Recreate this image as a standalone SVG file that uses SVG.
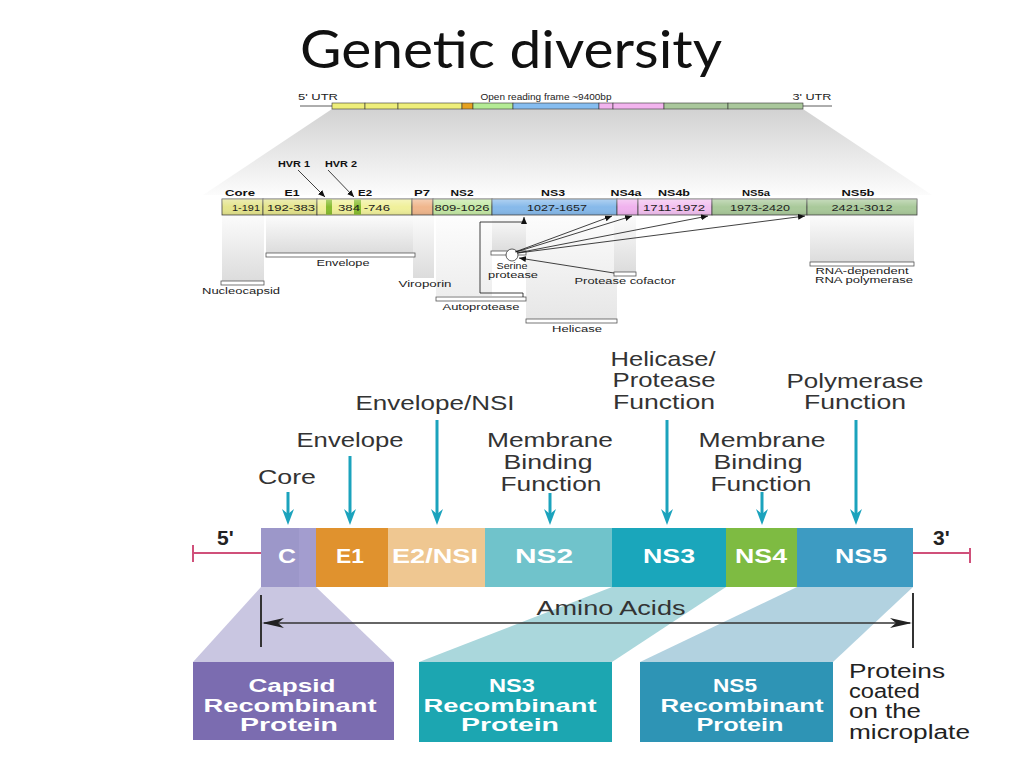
<svg xmlns="http://www.w3.org/2000/svg" width="1024" height="768" viewBox="0 0 1024 768">
<defs>
<style>
.t{font-family:"Liberation Sans",Arial,sans-serif}
.title{font-family:Lato,"Liberation Sans",sans-serif;font-size:52px;fill:#111}
.s{font-family:"Liberation Sans",Arial,sans-serif;font-size:8.5px;fill:#222;text-anchor:middle}
.sb{font-family:"Liberation Sans",Arial,sans-serif;font-size:8.5px;font-weight:bold;fill:#111;text-anchor:middle}
.n{font-family:"Liberation Sans",Arial,sans-serif;font-size:8.5px;fill:#222;text-anchor:middle}
.lab{font-family:"Liberation Sans",Arial,sans-serif;font-size:21px;fill:#333;text-anchor:middle}
.bl{font-family:"Liberation Sans",Arial,sans-serif;font-size:21px;font-weight:bold;fill:#fff;text-anchor:middle}
.bx{font-family:"Liberation Sans",Arial,sans-serif;font-size:19px;font-weight:bold;fill:#fff;text-anchor:middle}
.seg{stroke:#333;stroke-width:0.6}
.seg2{stroke:#444;stroke-width:0.8}
.pbox{fill:#fff;stroke:#555;stroke-width:0.8}
.teal{stroke:#1ba3bd;stroke-width:3;fill:none}
.thin{stroke:#111;stroke-width:0.8;fill:none}
.pink{stroke:#d0507a;stroke-width:2;fill:none}
</style>
<linearGradient id="shade" x1="0" y1="0" x2="0" y2="1">
<stop offset="0" stop-color="#d2d2d2"/><stop offset="1" stop-color="#fcfcfc"/>
</linearGradient>
<linearGradient id="col" x1="0" y1="0" x2="0" y2="1">
<stop offset="0" stop-color="#fbfbfb"/><stop offset="1" stop-color="#dcdcdc"/>
</linearGradient>
<linearGradient id="gloss" x1="0" y1="0" x2="0" y2="1">
<stop offset="0" stop-color="#fff" stop-opacity="0.35"/><stop offset="0.5" stop-color="#fff" stop-opacity="0"/><stop offset="1" stop-color="#000" stop-opacity="0.08"/>
</linearGradient>
<marker id="ta" markerUnits="userSpaceOnUse" markerWidth="16" markerHeight="12" refX="8" refY="6" orient="auto">
<path d="M0,0 L16,6 L0,12 L5,6 z" fill="#1ba3bd"/>
</marker>
<marker id="ba" markerUnits="userSpaceOnUse" markerWidth="22" markerHeight="10" refX="20" refY="5" orient="auto-start-reverse">
<path d="M0,0 L22,5 L0,10 L6,5 z" fill="#222"/>
</marker>
<marker id="sa" markerUnits="userSpaceOnUse" markerWidth="7" markerHeight="6" refX="7" refY="3" orient="auto">
<path d="M0,0 L7,3 L0,6 z" fill="#111"/>
</marker>
</defs>
<rect width="1024" height="768" fill="#fff"/>

<g id="title"><text class="title" x="511" y="68" text-anchor="middle" textLength="422" lengthAdjust="spacingAndGlyphs">Genetic diversity</text></g>

<!-- TOP GENOME DIAGRAM -->
<g id="genome-shading">
<polygon points="332,109 803,109 932,195 203,195" fill="url(#shade)"/>
<rect x="222" y="216" width="42" height="65" fill="url(#col)"/>
<rect x="266" y="216" width="149" height="37" fill="url(#col)"/>
<rect x="413" y="216" width="21" height="62" fill="url(#col)"/>
<rect x="436" y="216" width="56" height="80" fill="url(#col)" opacity="0.5"/>
<rect x="492" y="216" width="34" height="36" fill="url(#col)"/>
<rect x="526" y="216" width="91" height="103" fill="url(#col)" opacity="0.7"/>
<rect x="614" y="216" width="22" height="56" fill="url(#col)"/>
<rect x="810" y="216" width="104" height="46" fill="url(#col)"/>
</g>

<g id="utr-bar">
<line x1="300" y1="106" x2="832" y2="106" stroke="#333" stroke-width="0.8"/>
<rect class="seg" x="332" y="103" width="33" height="6" fill="#eeee7a"/>
<rect class="seg" x="365" y="103" width="33" height="6" fill="#eeee7a"/>
<rect class="seg" x="398" y="103" width="64" height="6" fill="#eeee7a"/>
<rect class="seg" x="462" y="103" width="11" height="6" fill="#e6a21e"/>
<rect class="seg" x="473" y="103" width="40" height="6" fill="#b4eb95"/>
<rect class="seg" x="513" y="103" width="86" height="6" fill="#86bdf0"/>
<rect class="seg" x="599" y="103" width="14" height="6" fill="#f2b4ee"/>
<rect class="seg" x="613" y="103" width="51" height="6" fill="#f2b4ee"/>
<rect class="seg" x="664" y="103" width="64" height="6" fill="#a9c79b"/>
<rect class="seg" x="728" y="103" width="75" height="6" fill="#a9c79b"/>
<text class="s" x="318" y="100" textLength="40" lengthAdjust="spacingAndGlyphs">5' UTR</text>
<text class="s" x="546" y="100" textLength="131" lengthAdjust="spacingAndGlyphs">Open reading frame ~9400bp</text>
<text class="s" x="812" y="100" textLength="39" lengthAdjust="spacingAndGlyphs">3' UTR</text>
</g>

<g id="polyprotein-bar">
<rect class="seg2" x="222" y="199" width="41" height="16" fill="#e4e48c"/>
<rect class="seg2" x="263" y="199" width="54" height="16" fill="#e4e48c"/>
<rect class="seg2" x="317" y="199" width="95" height="16" fill="#f0f09a"/>
<rect x="326" y="199.4" width="6" height="15.2" fill="#86bb2e"/>
<rect x="354" y="199.4" width="7" height="15.2" fill="#86bb2e"/>
<rect class="seg2" x="412" y="199" width="21" height="16" fill="#f0b68c"/>
<rect class="seg2" x="433" y="199" width="59" height="16" fill="#c4e8a4"/>
<rect class="seg2" x="492" y="199" width="125" height="16" fill="#86b9ea"/>
<rect class="seg2" x="617" y="199" width="21" height="16" fill="#f0b2ee"/>
<rect class="seg2" x="638" y="199" width="74" height="16" fill="#f2c0f0"/>
<rect class="seg2" x="712" y="199" width="95" height="16" fill="#a9c99a"/>
<rect class="seg2" x="807" y="199" width="110" height="16" fill="#a9c99a"/>
<rect x="222" y="199" width="695" height="16" fill="url(#gloss)"/>
<text class="n" x="246" y="211" textLength="28" lengthAdjust="spacingAndGlyphs">1-191</text>
<text class="n" x="291" y="211" textLength="48" lengthAdjust="spacingAndGlyphs">192-383</text>
<text class="n" x="364" y="211" textLength="52" lengthAdjust="spacingAndGlyphs">384 -746</text>
<text class="n" x="462" y="211" textLength="55" lengthAdjust="spacingAndGlyphs">809-1026</text>
<text class="n" x="557" y="211" textLength="60" lengthAdjust="spacingAndGlyphs">1027-1657</text>
<text class="n" x="674" y="211" textLength="62" lengthAdjust="spacingAndGlyphs">1711-1972</text>
<text class="n" x="760" y="211" textLength="60" lengthAdjust="spacingAndGlyphs">1973-2420</text>
<text class="n" x="862" y="211" textLength="61" lengthAdjust="spacingAndGlyphs">2421-3012</text>
</g>

<g id="segment-labels">
<text class="sb" x="240" y="196" textLength="30" lengthAdjust="spacingAndGlyphs">Core</text>
<text class="sb" x="292" y="196" textLength="15" lengthAdjust="spacingAndGlyphs">E1</text>
<text class="sb" x="365" y="196" textLength="14" lengthAdjust="spacingAndGlyphs">E2</text>
<text class="sb" x="422" y="196" textLength="16" lengthAdjust="spacingAndGlyphs">P7</text>
<text class="sb" x="462" y="196" textLength="23" lengthAdjust="spacingAndGlyphs">NS2</text>
<text class="sb" x="553" y="196" textLength="24" lengthAdjust="spacingAndGlyphs">NS3</text>
<text class="sb" x="626" y="196" textLength="31" lengthAdjust="spacingAndGlyphs">NS4a</text>
<text class="sb" x="674" y="196" textLength="32" lengthAdjust="spacingAndGlyphs">NS4b</text>
<text class="sb" x="756" y="196" textLength="28" lengthAdjust="spacingAndGlyphs">NS5a</text>
<text class="sb" x="858" y="196" textLength="33" lengthAdjust="spacingAndGlyphs">NS5b</text>
<text class="sb" x="294" y="167" textLength="32" lengthAdjust="spacingAndGlyphs">HVR 1</text>
<text class="sb" x="341" y="167" textLength="32" lengthAdjust="spacingAndGlyphs">HVR 2</text>
</g>

<g id="nucleocapsid"><rect class="pbox" x="221" y="281" width="43" height="4"/><text class="s" x="241" y="294" textLength="78" lengthAdjust="spacingAndGlyphs">Nucleocapsid</text></g>
<g id="envelope"><rect class="pbox" x="266" y="253" width="149" height="4"/><text class="s" x="343" y="266" textLength="53" lengthAdjust="spacingAndGlyphs">Envelope</text></g>
<g id="viroporin"><text class="s" x="425" y="287" textLength="53" lengthAdjust="spacingAndGlyphs">Viroporin</text></g>
<g id="autoprotease"><rect class="pbox" x="436" y="297" width="90" height="4"/><text class="s" x="481" y="310" textLength="77" lengthAdjust="spacingAndGlyphs">Autoprotease</text></g>
<g id="serine-protease"><rect class="pbox" x="491" y="251" width="35" height="4"/><circle cx="512" cy="255" r="6" fill="#fff" stroke="#333" stroke-width="0.8"/><text class="s" x="512" y="269" font-size="7.5" textLength="31" lengthAdjust="spacingAndGlyphs">Serine</text><text class="s" x="513" y="277.5" font-size="7.5" textLength="50" lengthAdjust="spacingAndGlyphs">protease</text></g>
<g id="protease-cofactor"><rect class="pbox" x="614" y="272" width="22" height="4"/><text class="s" x="625" y="284" textLength="101" lengthAdjust="spacingAndGlyphs">Protease cofactor</text></g>
<g id="helicase"><rect class="pbox" x="526" y="319" width="91" height="4"/><text class="s" x="577" y="332" textLength="50" lengthAdjust="spacingAndGlyphs">Helicase</text></g>
<g id="rna-polymerase"><rect class="pbox" x="810" y="262" width="104" height="4"/><text class="s" x="862" y="274" textLength="93" lengthAdjust="spacingAndGlyphs">RNA-dependent</text><text class="s" x="864" y="282.5" textLength="98" lengthAdjust="spacingAndGlyphs">RNA polymerase</text></g>

<g id="top-connectors">
<line class="thin" x1="298" y1="170" x2="325" y2="197" marker-end="url(#sa)"/>
<line class="thin" x1="328" y1="170" x2="354" y2="197" marker-end="url(#sa)"/>
<path class="thin" d="M523,297 V293 H480 V222 H524 V217" marker-end="url(#sa)"/>
<line class="thin" x1="515" y1="252" x2="612" y2="216" marker-end="url(#sa)"/>
<line class="thin" x1="516" y1="252" x2="632" y2="216" marker-end="url(#sa)"/>
<line class="thin" x1="517" y1="253" x2="708" y2="216" marker-end="url(#sa)"/>
<line class="thin" x1="518" y1="253" x2="805" y2="216" marker-end="url(#sa)"/>
<line class="thin" x1="614" y1="273" x2="519" y2="258" marker-end="url(#sa)"/>
</g>

<!-- BOTTOM DIAGRAM -->
<g id="projections">
<polygon points="261,587 316,587 394,662 193,662" fill="#c9c6e1"/>
<polygon points="612,587 726,587 612,662 419,662" fill="#aad7dc"/>
<polygon points="797,587 913,587 833,662 640,662" fill="#b2d2e0"/>
</g>

<g id="polyprotein">
<rect x="261" y="528" width="55" height="59" fill="#9c97c9"/>
<rect x="299" y="528" width="17" height="59" fill="#a39dcf"/>
<rect x="316" y="528" width="72" height="59" fill="#e0922e"/>
<rect x="388" y="528" width="97" height="59" fill="#efc791"/>
<rect x="485" y="528" width="127" height="59" fill="#70c3cb"/>
<rect x="612" y="528" width="114" height="59" fill="#1aa6bb"/>
<rect x="726" y="528" width="71" height="59" fill="#7ebb42"/>
<rect x="797" y="528" width="116" height="59" fill="#3d9bc2"/>
<text class="bl" x="287" y="563" textLength="18" lengthAdjust="spacingAndGlyphs">C</text>
<text class="bl" x="350" y="563" textLength="28" lengthAdjust="spacingAndGlyphs">E1</text>
<text class="bl" x="435" y="563" textLength="86" lengthAdjust="spacingAndGlyphs">E2/NSI</text>
<text class="bl" x="544" y="563" textLength="58" lengthAdjust="spacingAndGlyphs">NS2</text>
<text class="bl" x="669" y="563" textLength="52" lengthAdjust="spacingAndGlyphs">NS3</text>
<text class="bl" x="761" y="563" textLength="52" lengthAdjust="spacingAndGlyphs">NS4</text>
<text class="bl" x="861" y="563" textLength="52" lengthAdjust="spacingAndGlyphs">NS5</text>
</g>

<g id="ends">
<text class="t" x="217" y="545" font-size="21" font-weight="bold" fill="#222">5'</text>
<text class="t" x="933" y="545" font-size="21" font-weight="bold" fill="#222">3'</text>
</g>

<g id="function-labels">
<text class="lab" x="287" y="484" textLength="58" lengthAdjust="spacingAndGlyphs">Core</text>
<text class="lab" x="350" y="447" textLength="107" lengthAdjust="spacingAndGlyphs">Envelope</text>
<text class="lab" x="435" y="410" textLength="159" lengthAdjust="spacingAndGlyphs">Envelope/NSI</text>
<text class="lab" x="550" y="447" textLength="126" lengthAdjust="spacingAndGlyphs">Membrane</text>
<text class="lab" x="548" y="469" textLength="89" lengthAdjust="spacingAndGlyphs">Binding</text>
<text class="lab" x="551" y="491" textLength="101" lengthAdjust="spacingAndGlyphs">Function</text>
<text class="lab" x="663" y="366" textLength="105" lengthAdjust="spacingAndGlyphs">Helicase/</text>
<text class="lab" x="664" y="387" textLength="103" lengthAdjust="spacingAndGlyphs">Protease</text>
<text class="lab" x="664" y="409" textLength="102" lengthAdjust="spacingAndGlyphs">Function</text>
<text class="lab" x="855" y="388" textLength="137" lengthAdjust="spacingAndGlyphs">Polymerase</text>
<text class="lab" x="855" y="409" textLength="102" lengthAdjust="spacingAndGlyphs">Function</text>
<text class="lab" x="762" y="447" textLength="127" lengthAdjust="spacingAndGlyphs">Membrane</text>
<text class="lab" x="758" y="469" textLength="89" lengthAdjust="spacingAndGlyphs">Binding</text>
<text class="lab" x="761" y="491" textLength="101" lengthAdjust="spacingAndGlyphs">Function</text>
<text class="lab" x="611" y="615" textLength="149" lengthAdjust="spacingAndGlyphs">Amino Acids</text>
</g>

<g id="capsid-protein">
<rect x="193" y="662" width="201" height="78" fill="#7b6cb0"/>
<text class="bx" x="292" y="692" textLength="87" lengthAdjust="spacingAndGlyphs">Capsid</text>
<text class="bx" x="290" y="712" textLength="173" lengthAdjust="spacingAndGlyphs">Recombinant</text>
<text class="bx" x="289" y="731" textLength="98" lengthAdjust="spacingAndGlyphs">Protein</text>
</g>
<g id="ns3-protein">
<rect x="419" y="662" width="193" height="80" fill="#1ca6b1"/>
<text class="bx" x="512" y="692" textLength="46" lengthAdjust="spacingAndGlyphs">NS3</text>
<text class="bx" x="510" y="712" textLength="173" lengthAdjust="spacingAndGlyphs">Recombinant</text>
<text class="bx" x="510" y="731" textLength="98" lengthAdjust="spacingAndGlyphs">Protein</text>
</g>
<g id="ns5-protein">
<rect x="640" y="662" width="193" height="80" fill="#2e94b5"/>
<text class="bx" x="735" y="692" textLength="44" lengthAdjust="spacingAndGlyphs">NS5</text>
<text class="bx" x="742" y="712" textLength="163" lengthAdjust="spacingAndGlyphs">Recombinant</text>
<text class="bx" x="740" y="731" textLength="87" lengthAdjust="spacingAndGlyphs">Protein</text>
</g>
<g id="microplate-note">
<text class="t" x="849" y="678" font-size="20" fill="#222" textLength="96" lengthAdjust="spacingAndGlyphs">Proteins</text>
<text class="t" x="849" y="698" font-size="20" fill="#222" textLength="71" lengthAdjust="spacingAndGlyphs">coated</text>
<text class="t" x="849" y="718" font-size="20" fill="#222" textLength="72" lengthAdjust="spacingAndGlyphs">on the</text>
<text class="t" x="849" y="739" font-size="20" fill="#222" textLength="121" lengthAdjust="spacingAndGlyphs">microplate</text>
</g>

<g id="connectors">
<line class="teal" x1="288" y1="492" x2="288" y2="517" marker-end="url(#ta)"/>
<line class="teal" x1="350" y1="456" x2="350" y2="517" marker-end="url(#ta)"/>
<line class="teal" x1="437" y1="420" x2="437" y2="517" marker-end="url(#ta)"/>
<line class="teal" x1="550" y1="493" x2="550" y2="517" marker-end="url(#ta)"/>
<line class="teal" x1="667" y1="420" x2="667" y2="517" marker-end="url(#ta)"/>
<line class="teal" x1="762" y1="492" x2="762" y2="517" marker-end="url(#ta)"/>
<line class="teal" x1="856" y1="420" x2="856" y2="517" marker-end="url(#ta)"/>
<path class="pink" d="M193,553 H261 M193,545 V562"/>
<path class="pink" d="M913,553 H970 M970,548 V563"/>
<line x1="261" y1="595" x2="261" y2="647" stroke="#333" stroke-width="2"/>
<line x1="913" y1="593" x2="913" y2="648" stroke="#333" stroke-width="2"/>
<line x1="264" y1="623" x2="910" y2="623" stroke="#333" stroke-width="1.6" marker-start="url(#ba)" marker-end="url(#ba)"/>
</g>
</svg>
